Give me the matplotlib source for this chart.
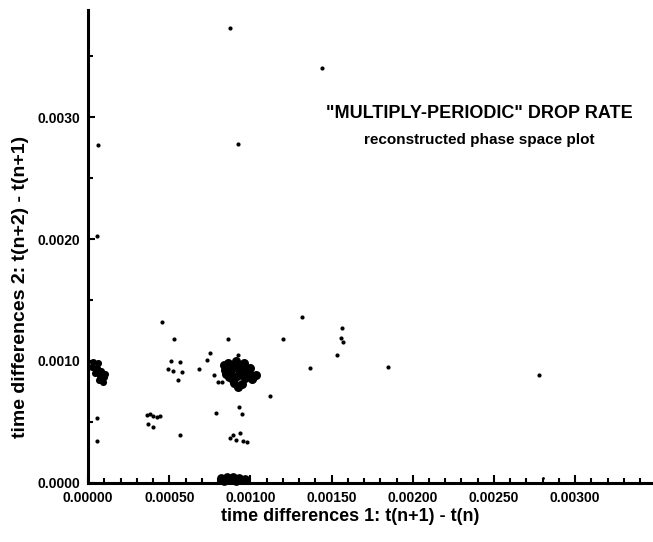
import numpy as np
import matplotlib
matplotlib.use("Agg")
import matplotlib.pyplot as plt
from matplotlib.ticker import MultipleLocator, FormatStrFormatter

plt.rcParams['font.family'] = ['Liberation Sans', 'DejaVu Sans']

# values, in milliseconds (converted to seconds below)
# scattered single points
dots_x = [0.874, 1.440, 0.923, 0.062, 0.055, 0.455, 0.529, 0.862, 1.200, 1.317,
          1.563, 1.557, 1.569, 1.532, 1.366, 1.846, 2.775, 1.120, 0.751, 0.732,
          0.683, 0.511, 0.566, 0.492, 0.523, 0.578, 0.554, 0.775, 0.800, 0.825,
          0.923, 0.929, 0.948, 0.788, 0.874, 0.892, 0.911, 0.935, 0.954, 0.978,
          0.566, 0.443, 0.363, 0.382, 0.400, 0.425, 0.369, 0.400, 0.055, 0.055]
dots_y = [3.730, 3.402, 2.779, 2.770, 2.025, 1.320, 1.180, 1.180, 1.180, 1.361,
          1.270, 1.189, 1.156, 1.049, 0.943, 0.951, 0.885, 0.713, 1.066, 1.008,
          0.934, 1.000, 0.992, 0.934, 0.918, 0.910, 0.844, 0.885, 0.828, 0.828,
          1.049, 0.623, 0.566, 0.574, 0.369, 0.393, 0.352, 0.410, 0.344, 0.336,
          0.393, 0.549, 0.557, 0.566, 0.549, 0.541, 0.484, 0.459, 0.533, 0.344]

# a few faint specks
specks_x = [0.874, 1.440, 0.923, 2.800]
specks_y = [3.730, 3.402, 2.779, 0.041]

# dense cluster around (0.0009, 0.0009)
main_x = [0.862, 0.911, 0.960, 0.997, 0.843, 0.892, 0.942, 0.991, 1.034, 0.868,
          0.917, 0.966, 1.009, 0.898, 0.948, 0.923, 0.837, 0.874,
          0.935, 0.972, 0.892, 0.849, 0.905, 0.950, 0.880, 1.015]
main_y = [0.984, 1.000, 0.984, 0.943, 0.926, 0.943, 0.943, 0.902, 0.885, 0.869,
          0.877, 0.861, 0.852, 0.820, 0.811, 0.787, 0.967, 0.910,
          0.910, 0.926, 0.844, 0.893, 0.965, 0.900, 0.950, 0.870]

# cluster next to the y axis
left_x = [0.031, 0.062, 0.025, 0.055, 0.080, 0.043, 0.074, 0.098, 0.068, 0.092,
          0.105, 0.050, 0.085]
left_y = [0.992, 0.984, 0.951, 0.943, 0.918, 0.902, 0.877, 0.869, 0.844, 0.828,
          0.893, 0.920, 0.895]

# cluster sitting on the x axis
bottom_x = [0.818, 0.855, 0.892, 0.929, 0.966, 0.837, 0.911, 0.874]
bottom_y = [0.041, 0.049, 0.049, 0.041, 0.033, 0.016, 0.016, 0.025]

ms = 1e-3

fig = plt.figure(figsize=(6.53, 5.42), dpi=100)
ax = fig.add_axes([0.135, 0.109, 0.865, 0.873])

ax.scatter(np.array(dots_x) * ms, np.array(dots_y) * ms, s=9, c='black',
           linewidths=0, clip_on=False)
ax.scatter(np.array(specks_x) * ms, np.array(specks_y) * ms, s=4, c='black',
           linewidths=0)
ax.scatter(np.array(main_x) * ms, np.array(main_y) * ms, s=42, c='black',
           linewidths=0)
ax.scatter(np.array(left_x) * ms, np.array(left_y) * ms, s=26, c='black',
           linewidths=0)
ax.scatter(np.array(bottom_x) * ms, np.array(bottom_y) * ms, s=40, c='black',
           linewidths=0, clip_on=False)

ax.set_xlim(0, 0.00348)
ax.set_ylim(0, 0.00388)

for side in ['top', 'right']:
    ax.spines[side].set_visible(False)
for side in ['left', 'bottom']:
    ax.spines[side].set_linewidth(2.2)

ax.xaxis.set_major_locator(MultipleLocator(0.0005))
ax.xaxis.set_minor_locator(MultipleLocator(0.0001))
ax.yaxis.set_major_locator(MultipleLocator(0.001))
ax.yaxis.set_minor_locator(MultipleLocator(0.0005))
ax.xaxis.set_major_formatter(FormatStrFormatter('%.5f'))
ax.yaxis.set_major_formatter(FormatStrFormatter('%.4f'))

ax.tick_params(axis='both', which='both', direction='in', width=1.5)
ax.tick_params(axis='x', which='major', length=6, pad=6)
ax.tick_params(axis='x', which='minor', length=3.5)
ax.tick_params(axis='y', which='major', length=5, pad=6)
ax.tick_params(axis='y', which='minor', length=3.5)
# drop the tick labels past 0.00300
xt = ax.get_xticks()
ax.set_xticks(xt[xt <= 0.0030 + 1e-9])
ax.set_xlim(0, 0.00348)
for lab in ax.get_xticklabels() + ax.get_yticklabels():
    lab.set_fontsize(10)
    lab.set_fontweight('bold')

ax.set_xlabel('time differences 1: t(n+1) - t(n)', fontsize=13,
              fontweight='bold')
ax.set_ylabel('time differences 2: t(n+2) - t(n+1)', fontsize=14,
              fontweight='bold')
ax.xaxis.set_label_coords(0.464, -0.052)
ax.yaxis.set_label_coords(-0.105, 0.414)

ax.text(0.00241, 0.00303, '"MULTIPLY-PERIODIC" DROP RATE', fontsize=13,
        fontweight='bold', ha='center', va='center')
ax.text(0.00241, 0.00281, 'reconstructed phase space plot', fontsize=11,
        fontweight='bold', ha='center', va='center')

plt.savefig('out.png', dpi=100)
